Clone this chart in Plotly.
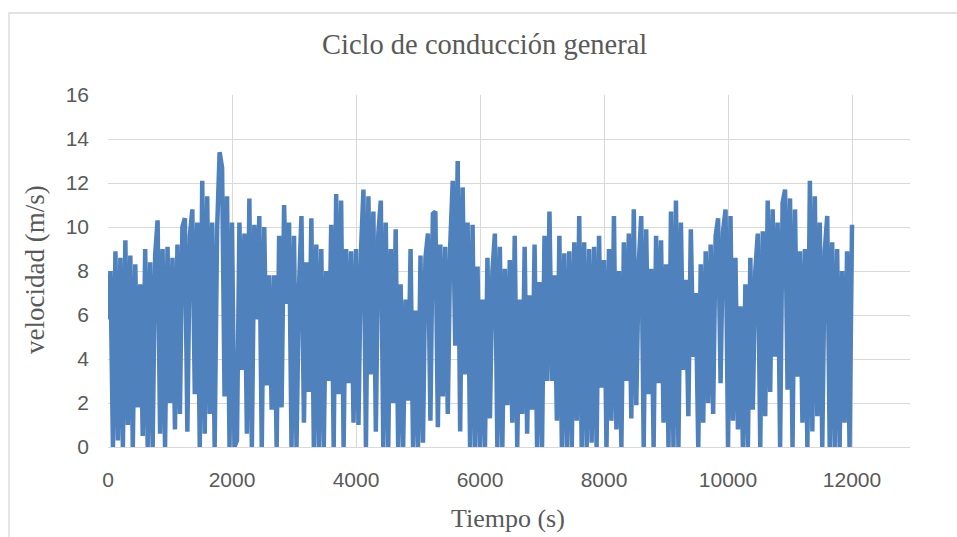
import plotly.graph_objects as go

# velocity samples (one every 40 s)
velocidad = [
    5.8, 8.0, 0, 8.9, 0.3, 8.6, 0, 9.4, 1.0, 8.7,
    0, 8.3, 1.8, 7.4, 0.5, 9.0, 0, 8.4, 0, 8.7,
    10.3, 0.6, 9.0, 0, 9.1, 2.0, 8.6, 0.8, 9.2, 1.5,
    10.0, 10.4, 0.7, 9.6, 10.8, 2.4, 10.2, 0, 12.1, 0.6,
    11.4, 1.5, 10.2, 0, 9.9, 13.4, 12.7, 2.3, 11.4, 0,
    10.2, 0, 0.3, 10.2, 3.5, 9.7, 0.6, 11.3, 0, 10.1,
    5.8, 10.5, 0, 10.0, 2.8, 7.8, 1.7, 7.8, 0, 9.6,
    1.8, 11.0, 6.5, 10.2, 0, 9.6, 0, 7.2, 10.5, 1.1,
    8.4, 2.5, 10.4, 0, 9.2, 0, 9.0, 0, 8.0, 3.0,
    10.1, 0, 11.5, 2.4, 11.2, 0, 9.0, 2.9, 8.9, 1.1,
    9.0, 1.0, 8.9, 11.7, 0, 11.4, 3.3, 10.7, 0.7, 9.7,
    11.2, 0, 10.2, 0, 9.0, 2.0, 9.9, 0, 7.4, 0,
    6.7, 2.1, 9.0, 0, 6.2, 0, 8.7, 0.2, 8.6, 9.7,
    1.2, 10.6, 10.7, 0.9, 9.2, 2.3, 9.1, 1.5, 9.2, 12.1,
    4.6, 13.0, 0.7, 11.8, 3.3, 10.2, 0, 10.1, 0, 8.2,
    0, 6.7, 0, 8.6, 1.3, 8.0, 9.7, 0, 9.1, 0,
    8.1, 1.9, 8.5, 1.1, 9.6, 0, 6.7, 1.5, 9.1, 0.6,
    6.9, 1.7, 9.2, 0, 7.5, 0, 9.6, 3.0, 10.7, 3.0,
    7.8, 1.2, 9.6, 0, 8.8, 0, 8.9, 0, 9.3, 1.2,
    10.5, 0, 9.3, 0, 9.0, 0.2, 9.1, 0, 9.6, 2.7,
    8.5, 0, 9.0, 1.2, 10.5, 0.8, 8.0, 0, 9.3, 3.0,
    9.7, 1.3, 10.8, 1.9, 8.3, 10.5, 0, 9.9, 2.4, 8.1,
    0, 9.6, 2.9, 9.4, 1.1, 8.3, 0, 10.7, 0, 11.2,
    0, 10.2, 3.5, 7.6, 1.4, 9.9, 4.1, 7.0, 0, 8.3,
    1.1, 8.9, 2.0, 9.2, 1.5, 9.6, 10.4, 2.9, 9.8, 10.8,
    0, 10.5, 1.2, 8.6, 0.8, 6.4, 0, 7.4, 0, 8.6,
    1.7, 8.0, 9.7, 0, 9.8, 1.4, 11.2, 2.5, 10.8, 4.1,
    10.2, 0, 11.1, 11.7, 2.6, 11.3, 0, 10.8, 3.2, 8.9,
    1.1, 9.0, 0, 12.1, 0.7, 11.4, 1.4, 10.2, 0, 8.9,
    10.5, 0, 9.3, 0, 9.0, 0, 8.0, 1.1, 8.9, 0,
    10.1,
]
paso_s = 40
tiempo = [paso_s * i for i in range(len(velocidad))]

x_ticks = [0, 2000, 4000, 6000, 8000, 10000, 12000]
y_ticks = [0, 2, 4, 6, 8, 10, 12, 14, 16]

titulo = "Ciclo de conducción general"
x_titulo = "Tiempo (s)"
y_titulo = "velocidad (m/s)"

W, H = 957, 537
L, R, T, B = 108, 910, 95, 447

fig = go.Figure()
fig.add_trace(go.Scatter(x=tiempo, y=velocidad, mode="lines",
                         line=dict(color="#4f81bd", width=4.5),
                         showlegend=False, hoverinfo="skip"))

def px(xp):
    return (xp - L) / (R - L)

def py(yp):
    return (B - yp) / (B - T)

fig.update_layout(
    width=W, height=H,
    margin=dict(l=L, r=W - R, t=T, b=H - B, pad=0),
    paper_bgcolor="white", plot_bgcolor="white",
    showlegend=False,
    xaxis=dict(range=[0, 12935], tickvals=x_ticks,
               ticktext=[str(v) for v in x_ticks],
               showgrid=True, gridcolor="#d9d9d9", gridwidth=1.3,
               zeroline=False, showline=True, linecolor="#d9d9d9", linewidth=1.3,
               ticks="", ticklabelstandoff=14,
               tickfont=dict(family="Liberation Sans, Arial", size=21, color="#595959")),
    yaxis=dict(range=[0, 16], tickvals=y_ticks,
               showgrid=True, gridcolor="#d9d9d9", gridwidth=1.3,
               zeroline=False, showline=False,
               ticks="", ticklabelstandoff=18,
               tickfont=dict(family="Liberation Sans, Arial", size=21, color="#595959")),
    annotations=[
        dict(text=titulo, x=px(484.5), y=py(45), xref="paper", yref="paper",
             showarrow=False, xanchor="center", yanchor="middle",
             font=dict(family="Liberation Serif, Times New Roman", size=28.5, color="#595959")),
        dict(text=x_titulo, x=px(508), y=py(518), xref="paper", yref="paper",
             showarrow=False, xanchor="center", yanchor="middle",
             font=dict(family="Liberation Serif, Times New Roman", size=26, color="#595959")),
        dict(text=y_titulo, x=px(35), y=py(270), xref="paper", yref="paper",
             showarrow=False, xanchor="center", yanchor="middle", textangle=-90,
             font=dict(family="Liberation Serif, Times New Roman", size=27, color="#595959")),
    ],
    shapes=[
        dict(type="rect", xref="paper", yref="paper",
             x0=px(9), x1=px(975), y0=py(560), y1=py(13),
             line=dict(color="#d9d9d9", width=1.3), fillcolor="rgba(0,0,0,0)",
             layer="below"),
    ],
)

fig.write_html("out.html")
